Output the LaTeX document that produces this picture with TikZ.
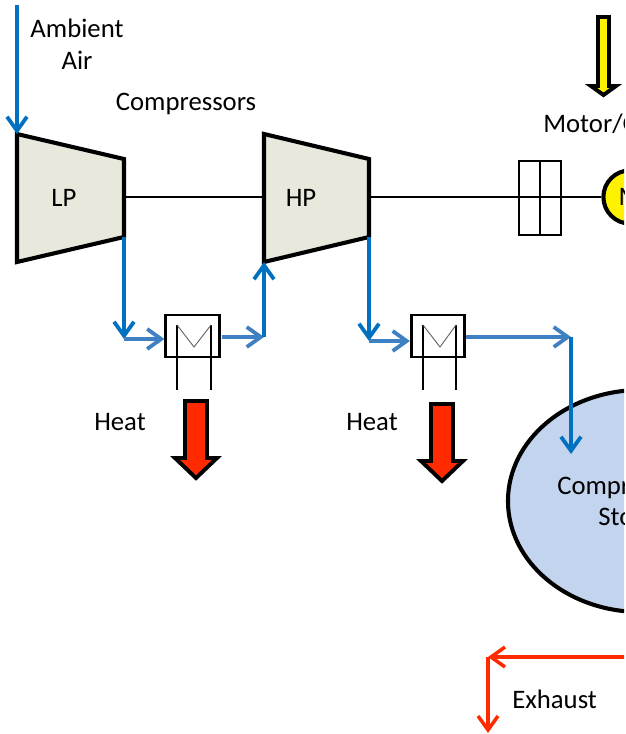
\documentclass[tikz,border=0pt]{standalone}
\usepackage{fontspec}
\setmainfont{Carlito}
\usepackage{tikz}
\usetikzlibrary{arrows.meta,shapes.geometric,positioning}
\usepackage{xcolor}
\definecolor{caesblue}{RGB}{0,112,192}
\definecolor{caesblue2}{RGB}{62,128,194}
\definecolor{caesred}{RGB}{255,42,0}
\definecolor{caesstore}{RGB}{195,213,238}
\definecolor{caesgrey}{RGB}{232,232,220}
\tikzstyle{airline} = [line width=2.7pt,-{Straight Barb[length=3.5mm,width=5mm]},color=caesblue]
\tikzstyle{airline2} = [airline,color=caesblue2]
\tikzstyle{exhaustline} = [airline,line width=2.5pt,color=caesred]
\tikzstyle{shaft} = [line width=1pt]
\tikzstyle{casing} = [line width=2.9pt,line join=miter,fill=caesgrey]
\tikzstyle{hxbox} = [draw,line width=2.1pt,minimum width=1.33cm,minimum height=1.05cm,inner sep=0pt]
\tikzstyle{hxleg} = [line width=0.8pt]
\tikzstyle{bigarrow} = [line width=2.8pt,line join=miter,miter limit=10]
\tikzstyle{label} = [font=\fontsize{19}{19}\selectfont,inner sep=0pt,align=center]

\begin{document}
\begin{tikzpicture}[x=0.025cm,y=-0.025cm]
\useasboundingbox (0,0) rectangle (625,734);
\clip (0,0) rectangle (624,734);

% compressors
\coordinate (lpnw) at (17,134);
\coordinate (lpsw) at (17,262);
\coordinate (lpne) at (124,159);
\coordinate (lpse) at (124,237);
\coordinate (lpshaft) at (124,197);
\coordinate (hpnw) at (264,134);
\coordinate (hpsw) at (264,262);
\coordinate (hpne) at (369,159);
\coordinate (hpse) at (369,237);
\coordinate (hpshaft) at (264,197);
\coordinate (hpshaftout) at (369,197);
\draw[casing] (lpnw) -- (lpne) -- (lpse) -- (lpsw) -- cycle;
\draw[casing] (hpnw) -- (hpne) -- (hpse) -- (hpsw) -- cycle;
\node[label] (lp) at (64,198) {LP};
\node[label] (hp) at (301,198) {HP};

% shaft, clutch and motor
\node[draw,line width=0.9pt,minimum width=1.05cm,minimum height=1.85cm,inner sep=0pt] (clutch) at (540,198) {};
\node[circle,draw,line width=2.9pt,fill=yellow,minimum size=1.33cm,inner sep=0pt,label] (motor) at (630,197) {M};
\draw[shaft] (lpshaft) -- (hpshaft);
\draw[shaft] (hpshaftout) -- (motor.west);
\draw[line width=0.9pt] (clutch.north) -- (clutch.south);

% storage
\node[ellipse,draw,line width=2.9pt,fill=caesstore,minimum width=6.65cm,minimum height=5.55cm,inner sep=0pt,label] (store) at (641,501) {};
\node[label,anchor=west] (storeline1) at (557,487) {Compressed Air};
\node[label,anchor=west] (storeline2) at (598,519) {Storage};

% intercoolers
\node[hxbox] (hxa) at (192.5,336) {};
\draw[hxleg] (177,325) -- (177,390);
\draw[hxleg] (211,325) -- (211,390);
\draw[line width=0.6pt,color=black!65] (177,325) -- (194,347) -- (211,325);
\node[hxbox] (hxb) at (438,336) {};
\draw[hxleg] (423,325) -- (423,390);
\draw[hxleg] (456,325) -- (456,390);
\draw[line width=0.6pt,color=black!65] (423,325) -- (440,347) -- (456,325);

% air path
\coordinate (airin) at (17,5);
\coordinate (lpdown) at (124,339);
\coordinate (hpup) at (264,337);
\coordinate (hpdown) at (369,341);
\coordinate (storein) at (571,337);
\coordinate (storeend) at (571,454);
\coordinate (hxaout) at (222,337);
\draw[airline] (airin) -- (lpnw);
\draw[airline] (lpse) -- (lpdown);
\draw[airline2] (lpdown) -- (lpdown -| hxa.west);
\draw[airline2] (hxaout) -- (hpup);
\draw[airline] (hpup) -- (hpsw);
\draw[airline] (hpse) -- (hpdown);
\draw[airline2] (hpdown) -- (hpdown -| hxb.west);
\draw[airline2] (storein -| hxb.east) -- (storein);
\draw[airline] (storein) -- (storeend);

% exhaust
\coordinate (exhin) at (630,657);
\coordinate (exhcorner) at (488,657);
\coordinate (exhout) at (488,733);
\draw[exhaustline] (exhin) -- (exhcorner);
\draw[exhaustline] (exhcorner) -- (exhout);

% block arrows
\draw[bigarrow,fill=yellow] (598,17) -- (609,17) -- (609,86) -- (616,86) -- (603.5,95) -- (591,86) -- (598,86) -- cycle;
\draw[bigarrow,fill=caesred] (185,401) -- (207,401) -- (207,458) -- (217,458) -- (196,478) -- (175,458) -- (185,458) -- cycle;
\draw[bigarrow,fill=caesred] (431,404) -- (453,404) -- (453,461) -- (463,461) -- (442,481) -- (421,461) -- (431,461) -- cycle;

% labels
\node[label] (ambient) at (77,28) {Ambient};
\node[label] (air) at (77,60) {Air};
\node[label] (compressors) at (186,104) {Compressors};
\node[label,anchor=west] (motorlabel) at (543,124) {Motor/Generator};
\node[label] (heata) at (120,422) {Heat};
\node[label] (heatb) at (372,422) {Heat};
\node[label,anchor=west] (exhaust) at (512,699) {Exhaust};
\end{tikzpicture}
\end{document}
